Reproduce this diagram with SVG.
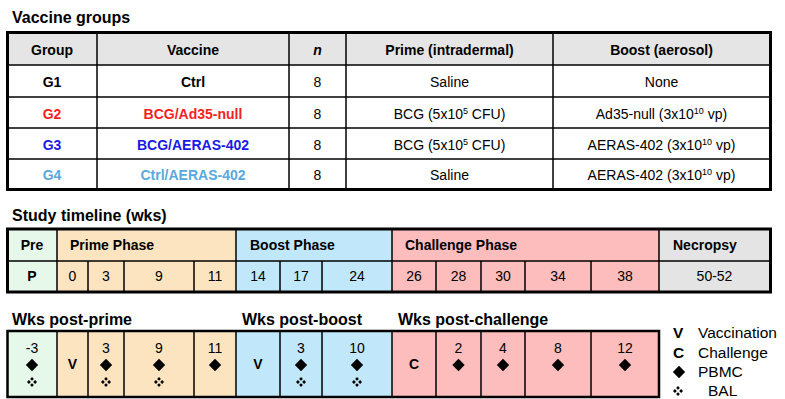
<svg xmlns="http://www.w3.org/2000/svg" width="785" height="399" viewBox="0 0 785 399">
<style>
text{font-family:"Liberation Sans",Arial,Helvetica,sans-serif;fill:#000}
.title{font-size:16px;font-weight:bold}
.hd{font-size:14px;font-weight:bold;text-anchor:middle}
.b{font-size:14px;font-weight:bold;text-anchor:middle}
.c{font-size:14px;text-anchor:middle}
.ph{font-size:14px;font-weight:bold}
.n{font-size:14px;text-anchor:middle}
.lg{font-size:15.5px}
.outer{fill:none;stroke:#000;stroke-width:3}
.ln{stroke:#000;stroke-width:1.5;fill:none}
.sup{font-size:9px}
</style>
<defs>
  <polygon id="dm" points="0,-6.2 6.2,0 0,6.2 -6.2,0" fill="#000"/>
  <g id="bal" fill="#000">
    <polygon points="0,-5 1.9,-3.1 0,-1.2 -1.9,-3.1"/>
    <polygon points="0,1.2 1.9,3.1 0,5 -1.9,3.1"/>
    <polygon points="-5,0 -3.1,-1.9 -1.2,0 -3.1,1.9"/>
    <polygon points="1.2,0 3.1,-1.9 5,0 3.1,1.9"/>
  </g>
</defs>

<g id="vaccine-groups">
  <text class="title" x="12" y="23">Vaccine groups</text>
  <rect x="7.5" y="32.5" width="763" height="32.5" fill="#e5e5e5"/>
  <rect x="7.5" y="65" width="763" height="124.5" fill="#fff"/>
  <g class="ln">
    <line x1="7.5" y1="65" x2="770.5" y2="65"/>
    <line x1="7.5" y1="97" x2="770.5" y2="97"/>
    <line x1="7.5" y1="128" x2="770.5" y2="128"/>
    <line x1="7.5" y1="159" x2="770.5" y2="159"/>
    <line x1="97" y1="32.5" x2="97" y2="189.5"/>
    <line x1="289" y1="32.5" x2="289" y2="189.5"/>
    <line x1="346" y1="32.5" x2="346" y2="189.5"/>
    <line x1="553" y1="32.5" x2="553" y2="189.5"/>
  </g>
  <rect class="outer" x="7.5" y="32.5" width="763" height="157"/>
  <text class="hd" x="52" y="55">Group</text>
  <text class="hd" x="193" y="55">Vaccine</text>
  <text class="hd" x="317.5" y="55" font-style="italic">n</text>
  <text class="hd" x="449.5" y="55">Prime (intradermal)</text>
  <text class="hd" x="661.5" y="55">Boost (aerosol)</text>

  <text class="b" x="52" y="87">G1</text>
  <text class="b" x="193" y="87">Ctrl</text>
  <text class="c" x="317.5" y="87">8</text>
  <text class="c" x="449.5" y="87">Saline</text>
  <text class="c" x="661.5" y="87">None</text>

  <text class="b" x="52" y="118.5" style="fill:#f51f1f">G2</text>
  <text class="b" x="193" y="118.5" style="fill:#f51f1f">BCG/Ad35-null</text>
  <text class="c" x="317.5" y="118.5">8</text>
  <text class="c" x="449.5" y="118.5">BCG (5x10<tspan class="sup" dy="-5">5</tspan><tspan dy="5"> CFU)</tspan></text>
  <text class="c" x="661.5" y="118.5">Ad35-null (3x10<tspan class="sup" dy="-5">10</tspan><tspan dy="5"> vp)</tspan></text>

  <text class="b" x="52" y="149.5" style="fill:#1a1ae6">G3</text>
  <text class="b" x="193" y="149.5" style="fill:#1a1ae6">BCG/AERAS-402</text>
  <text class="c" x="317.5" y="149.5">8</text>
  <text class="c" x="449.5" y="149.5">BCG (5x10<tspan class="sup" dy="-5">5</tspan><tspan dy="5"> CFU)</tspan></text>
  <text class="c" x="661.5" y="149.5">AERAS-402 (3x10<tspan class="sup" dy="-5">10</tspan><tspan dy="5"> vp)</tspan></text>

  <text class="b" x="52" y="180" style="fill:#5ba8dd">G4</text>
  <text class="b" x="193" y="180" style="fill:#5ba8dd">Ctrl/AERAS-402</text>
  <text class="c" x="317.5" y="180">8</text>
  <text class="c" x="449.5" y="180">Saline</text>
  <text class="c" x="661.5" y="180">AERAS-402 (3x10<tspan class="sup" dy="-5">10</tspan><tspan dy="5"> vp)</tspan></text>
</g>

<g id="study-timeline">
  <text class="title" x="12" y="221">Study timeline (wks)</text>
  <rect x="7.5" y="229" width="49.5" height="63" fill="#e6f8e9"/>
  <rect x="57" y="229" width="179" height="63" fill="#fde4c0"/>
  <rect x="236" y="229" width="156" height="63" fill="#c0e8fa"/>
  <rect x="392" y="229" width="267" height="63" fill="#fdbdbd"/>
  <rect x="659" y="229" width="111.5" height="63" fill="#e4e4e4"/>
  <g class="ln">
    <line x1="7.5" y1="261" x2="770.5" y2="261"/>
    <line x1="57" y1="229" x2="57" y2="292"/>
    <line x1="236" y1="229" x2="236" y2="292"/>
    <line x1="392" y1="229" x2="392" y2="292"/>
    <line x1="659" y1="229" x2="659" y2="292"/>
    <line x1="88" y1="261" x2="88" y2="292"/>
    <line x1="124" y1="261" x2="124" y2="292"/>
    <line x1="194" y1="261" x2="194" y2="292"/>
    <line x1="280" y1="261" x2="280" y2="292"/>
    <line x1="322" y1="261" x2="322" y2="292"/>
    <line x1="436" y1="261" x2="436" y2="292"/>
    <line x1="481" y1="261" x2="481" y2="292"/>
    <line x1="525" y1="261" x2="525" y2="292"/>
    <line x1="591" y1="261" x2="591" y2="292"/>
  </g>
  <rect class="outer" x="7.5" y="229" width="763" height="63"/>
  <text class="b" x="32" y="250">Pre</text>
  <text class="ph" x="70" y="250">Prime Phase</text>
  <text class="ph" x="250" y="250">Boost Phase</text>
  <text class="ph" x="405" y="250">Challenge Phase</text>
  <text class="ph" x="673" y="250">Necropsy</text>
  <text class="b" x="32" y="281">P</text>
  <text class="c" x="72.5" y="281">0</text>
  <text class="c" x="106" y="281">3</text>
  <text class="c" x="159" y="281">9</text>
  <text class="c" x="215" y="281">11</text>
  <text class="c" x="258" y="281">14</text>
  <text class="c" x="301" y="281">17</text>
  <text class="c" x="357" y="281">24</text>
  <text class="c" x="414" y="281">26</text>
  <text class="c" x="458.5" y="281">28</text>
  <text class="c" x="503" y="281">30</text>
  <text class="c" x="558" y="281">34</text>
  <text class="c" x="625" y="281">38</text>
  <text class="c" x="714.5" y="281">50-52</text>
</g>

<g id="sampling">
  <text class="title" x="12" y="325">Wks post-prime</text>
  <text class="title" x="242" y="325">Wks post-boost</text>
  <text class="title" x="398" y="325">Wks post-challenge</text>
  <rect x="7.5" y="331" width="49.5" height="66" fill="#e6f8e9"/>
  <rect x="57" y="331" width="179" height="66" fill="#fde4c0"/>
  <rect x="236" y="331" width="156" height="66" fill="#c0e8fa"/>
  <rect x="392" y="331" width="267" height="66" fill="#fdbdbd"/>
  <g class="ln">
    <line x1="57" y1="331" x2="57" y2="397"/>
    <line x1="88" y1="331" x2="88" y2="397"/>
    <line x1="124" y1="331" x2="124" y2="397"/>
    <line x1="194" y1="331" x2="194" y2="397"/>
    <line x1="236" y1="331" x2="236" y2="397"/>
    <line x1="280" y1="331" x2="280" y2="397"/>
    <line x1="322" y1="331" x2="322" y2="397"/>
    <line x1="392" y1="331" x2="392" y2="397"/>
    <line x1="436" y1="331" x2="436" y2="397"/>
    <line x1="481" y1="331" x2="481" y2="397"/>
    <line x1="525" y1="331" x2="525" y2="397"/>
    <line x1="591" y1="331" x2="591" y2="397"/>
  </g>
  <rect x="7.5" y="331" width="651.5" height="66" fill="none" stroke="#000" stroke-width="2.5"/>

  <text class="n" x="32" y="353">-3</text>
  <text class="n" x="106" y="353">3</text>
  <text class="n" x="159" y="353">9</text>
  <text class="n" x="215" y="353">11</text>
  <text class="n" x="301" y="353">3</text>
  <text class="n" x="357" y="353">10</text>
  <text class="n" x="458.5" y="353">2</text>
  <text class="n" x="503" y="353">4</text>
  <text class="n" x="558" y="353">8</text>
  <text class="n" x="625" y="353">12</text>

  <text class="b" x="72.5" y="369">V</text>
  <text class="b" x="258" y="369">V</text>
  <text class="b" x="414" y="369">C</text>

  <use href="#dm" x="32" y="365"/>
  <use href="#dm" x="106" y="365"/>
  <use href="#dm" x="159" y="365"/>
  <use href="#dm" x="215" y="365"/>
  <use href="#dm" x="301" y="365"/>
  <use href="#dm" x="357" y="365"/>
  <use href="#dm" x="458.5" y="365"/>
  <use href="#dm" x="503" y="365"/>
  <use href="#dm" x="558" y="365"/>
  <use href="#dm" x="625" y="365"/>

  <use href="#bal" x="32" y="382"/>
  <use href="#bal" x="106" y="382"/>
  <use href="#bal" x="159" y="382"/>
  <use href="#bal" x="301" y="382"/>
  <use href="#bal" x="357" y="382"/>
</g>

<g id="legend">
  <text class="lg" x="673" y="338" font-weight="bold">V</text>
  <text class="lg" x="698" y="338">Vaccination</text>
  <text class="lg" x="673" y="357.5" font-weight="bold">C</text>
  <text class="lg" x="698" y="357.5">Challenge</text>
  <use href="#dm" x="679" y="372"/>
  <text class="lg" x="698" y="377">PBMC</text>
  <use href="#bal" x="678" y="391"/>
  <text class="lg" x="708" y="396">BAL</text>
</g>
</svg>
